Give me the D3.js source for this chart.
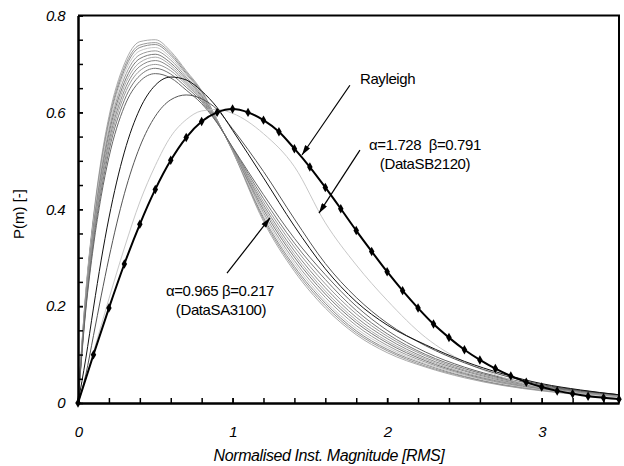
<!DOCTYPE html>
<html>
<head>
<meta charset="utf-8">
<script src="https://cdn.jsdelivr.net/npm/d3@7"></script>
<style>
body { margin: 0; background: #fff; }
svg text { font-family: "Liberation Sans", Arial, sans-serif; fill: #000; }
</style>
</head>
<body>
<svg id="chart"></svg>
<script>
var svgWidth = 624;
var svgHeight = 466;

var margin = {top: 15.5, right: 5, bottom: 63, left: 78};

// x positions shared by the measured curves
var xGrid = [0, 0.05, 0.1, 0.15, 0.2, 0.3, 0.4, 0.5, 0.6, 0.7, 0.8, 0.9, 1.0, 1.2, 1.4, 1.6, 1.8, 2.0, 2.25, 2.5, 2.75, 3.0, 3.25, 3.5];

// grey bundle of measured distributions (highest peak first)
var clusterSeries = [
  [0, .228, .385, .503, .591, .700, .746, .750, .726, .686, .645, .585, .520, .375, .272, .196, .141, .104, .074, .052, .036, .025, .017, .011],
  [0, .225, .380, .497, .584, .693, .739, .744, .722, .683, .643, .584, .521, .379, .277, .201, .145, .108, .076, .054, .037, .026, .018, .011],
  [0, .222, .376, .492, .578, .687, .734, .740, .718, .680, .641, .584, .521, .383, .282, .206, .149, .111, .079, .055, .038, .027, .018, .012],
  [0, .219, .371, .486, .572, .680, .727, .734, .713, .677, .639, .583, .522, .388, .288, .211, .154, .115, .081, .057, .040, .028, .019, .012],
  [0, .215, .365, .478, .563, .671, .719, .727, .708, .673, .636, .583, .523, .393, .294, .218, .160, .119, .084, .059, .041, .029, .020, .013],
  [0, .212, .359, .470, .555, .662, .711, .720, .702, .669, .633, .582, .523, .399, .301, .225, .166, .124, .087, .061, .043, .030, .020, .014],
  [0, .208, .353, .463, .547, .654, .703, .714, .697, .665, .631, .581, .524, .404, .307, .231, .171, .128, .090, .063, .044, .031, .021, .014],
  [0, .204, .347, .456, .539, .645, .695, .707, .692, .661, .628, .581, .525, .409, .314, .238, .177, .133, .093, .066, .046, .032, .022, .015],
  [0, .200, .340, .448, .530, .636, .686, .699, .686, .657, .625, .580, .526, .415, .322, .246, .184, .138, .097, .068, .048, .033, .023, .015],
  [0, .196, .333, .438, .520, .625, .676, .691, .679, .652, .622, .579, .527, .422, .330, .255, .191, .143, .100, .071, .050, .034, .024, .016],
  [0, .190, .324, .427, .507, .612, .664, .680, .671, .646, .618, .578, .528, .430, .340, .265, .200, .150, .105, .074, .052, .036, .025, .017]
];
var clusterColors = ["#aaaaaa", "#999999", "#8c8c8c", "#c8c8c8", "#9a9a9a", "#7a7a7a", "#aaaaaa", "#888888", "#999999", "#777777", "#666666"];

var blackSeries = [0, .091, .196, .295, .382, .518, .607, .656, .673, .667, .644, .610, .563, .465, .365, .277, .209, .161, .120, .086, .060, .040, .027, .017];
var darkSeries = [0, .058, .139, .221, .299, .432, .529, .592, .626, .636, .628, .606, .566, .478, .380, .288, .218, .165, .118, .083, .057, .038, .026, .017];
var sb2120Series = [0, .050, .105, .160, .215, .320, .415, .490, .550, .585, .603, .606, .598, .556, .488, .372, .285, .212, .135, .085, .053, .032, .019, .011];

var rayleighX = [0, 0.1, 0.2, 0.3, 0.4, 0.5, 0.6, 0.7, 0.8, 0.9, 1.0, 1.1, 1.2, 1.3, 1.4, 1.5, 1.6, 1.7, 1.8, 1.9, 2.0, 2.1, 2.2, 2.3, 2.4, 2.5, 2.6, 2.7, 2.8, 2.9, 3.0, 3.1, 3.2, 3.3, 3.4, 3.5];
var rayleighY = [0, .0995, .196, .287, .369, .441, .501, .548, .581, .600, .607, .600, .584, .560, .525, .487, .445, .401, .356, .313, .271, .232, .196, .163, .135, .110, .089, .071, .056, .043, .033, .025, .019, .014, .011, .008];

var xMajor = [0, 1, 2, 3];
var xMinor = [0.2, 0.4, 0.6, 0.8, 1, 1.2, 1.4, 1.6, 1.8, 2, 2.2, 2.4, 2.6, 2.8, 3, 3.2, 3.4];
var yMajor = [0, 0.2, 0.4, 0.6, 0.8];
var yMinor = [0.05, 0.1, 0.15, 0.2, 0.25, 0.3, 0.35, 0.4, 0.45, 0.5, 0.55, 0.6, 0.65, 0.7, 0.75, 0.8];

var width = svgWidth - margin.left - margin.right;
var height = svgHeight - margin.top - margin.bottom;

var svg = d3.select("#chart")
            .attr("width", svgWidth)
            .attr("height", svgHeight);

var chart = svg.append("g").attr("transform", `translate(${margin.left}, ${margin.top})`);

var xScale = d3.scaleLinear().domain([0, 3.5]).range([0, width]);
var yScale = d3.scaleLinear().domain([0, 0.8]).range([height, 0]);

var line = d3.line()
             .x(d => xScale(d[0]))
             .y(d => yScale(d[1]))
             .curve(d3.curveMonotoneX);

function pairs(xs, ys) {
  return xs.map((x, i) => [x, ys[i]]);
}

// grey bundle
clusterSeries.forEach(function(s, i) {
  chart.append("path")
       .attr("d", line(pairs(xGrid, s)))
       .attr("fill", "none")
       .attr("stroke", clusterColors[i])
       .attr("stroke-width", 1);
});

chart.append("path")
     .attr("d", line(pairs(xGrid, sb2120Series)))
     .attr("fill", "none")
     .attr("stroke", "#c8c8c8")
     .attr("stroke-width", 1);

chart.append("path")
     .attr("d", line(pairs(xGrid, darkSeries)))
     .attr("fill", "none")
     .attr("stroke", "#555")
     .attr("stroke-width", 1);

chart.append("path")
     .attr("d", line(pairs(xGrid, blackSeries)))
     .attr("fill", "none")
     .attr("stroke", "#111")
     .attr("stroke-width", 1);

// Rayleigh
var rayleigh = pairs(rayleighX, rayleighY);
chart.append("path")
     .attr("d", line(rayleigh))
     .attr("fill", "none")
     .attr("stroke", "#000")
     .attr("stroke-width", 2);

chart.selectAll(".marker")
     .data(rayleigh)
     .enter()
     .append("path")
     .attr("class", "marker")
     .attr("d", d3.symbol(d3.symbolDiamond).size(26))
     .attr("transform", d => `translate(${xScale(d[0])},${yScale(d[1])})`)
     .attr("fill", "#000");

// axes, ticks pointing inwards
var xAxisMinor = d3.axisBottom(xScale).tickValues(xMinor).tickSize(-5).tickSizeOuter(0).tickFormat("");
var xAxis = d3.axisBottom(xScale).tickValues(xMajor).tickSize(-5).tickSizeOuter(0).tickPadding(23).tickFormat(d3.format("d"));
var yAxisMinor = d3.axisLeft(yScale).tickValues(yMinor).tickSize(-5).tickSizeOuter(0).tickFormat("");
var yAxis = d3.axisLeft(yScale).tickValues(yMajor).tickSize(-5).tickSizeOuter(0).tickPadding(13).tickFormat(d => d === 0 ? "0" : d3.format(".1f")(d));

[xAxisMinor, xAxis].forEach(function(a) {
  chart.append("g").attr("transform", `translate(0, ${height})`).call(a);
});
[yAxisMinor, yAxis].forEach(function(a) {
  chart.append("g").call(a);
});

chart.selectAll(".domain").attr("stroke-width", 2);
chart.selectAll(".tick line").attr("stroke-width", 1.5);
chart.selectAll(".tick text")
     .attr("font-size", 15)
     .attr("font-style", "italic")
     .attr("letter-spacing", -0.6);

// top and right frame
chart.append("path")
     .attr("d", `M0,0H${width}V${height}`)
     .attr("fill", "none")
     .attr("stroke", "#000")
     .attr("stroke-width", 2);

// axis titles
svg.append("text")
   .attr("x", 329)
   .attr("y", 461)
   .attr("text-anchor", "middle")
   .attr("font-size", 16)
   .attr("font-style", "italic")
   .attr("letter-spacing", -0.4)
   .text("Normalised Inst. Magnitude [RMS]");

svg.append("text")
   .attr("transform", "translate(24, 214) rotate(-90)")
   .attr("text-anchor", "middle")
   .attr("font-size", 15)
   .text("P(m) [-]");

// annotations
svg.append("defs").append("marker")
   .attr("id", "arrow")
   .attr("viewBox", "0 0 10 6")
   .attr("refX", 10)
   .attr("refY", 3)
   .attr("markerWidth", 11)
   .attr("markerHeight", 6)
   .attr("markerUnits", "userSpaceOnUse")
   .attr("orient", "auto")
   .append("path")
   .attr("d", "M0,0L10,3L0,6Z")
   .attr("fill", "#000");

var arrows = [
  {from: [1.759, 0.656], to: [1.449, 0.512]},
  {from: [1.824, 0.522], to: [1.559, 0.392]},
  {from: [0.964, 0.268], to: [1.242, 0.382]}
];
arrows.forEach(function(a) {
  chart.append("line")
       .attr("x1", xScale(a.from[0])).attr("y1", yScale(a.from[1]))
       .attr("x2", xScale(a.to[0])).attr("y2", yScale(a.to[1]))
       .attr("stroke", "#000")
       .attr("stroke-width", 1.2)
       .attr("marker-end", "url(#arrow)");
});

var notes = [
  {x: 360, y: 84, anchor: "start", text: "Rayleigh"},
  {x: 425, y: 150, anchor: "middle", text: "\u03B1=1.728  \u03B2=0.791"},
  {x: 425, y: 169, anchor: "middle", text: "(DataSB2120)"},
  {x: 220, y: 296, anchor: "middle", text: "\u03B1=0.965 \u03B2=0.217"},
  {x: 221, y: 315, anchor: "middle", text: "(DataSA3100)"}
];
notes.forEach(function(n) {
  svg.append("text")
     .attr("x", n.x)
     .attr("y", n.y)
     .attr("text-anchor", n.anchor)
     .attr("font-size", 15)
     .attr("letter-spacing", -0.4)
     .style("white-space", "pre")
     .text(n.text);
});
</script>
</body>
</html>
